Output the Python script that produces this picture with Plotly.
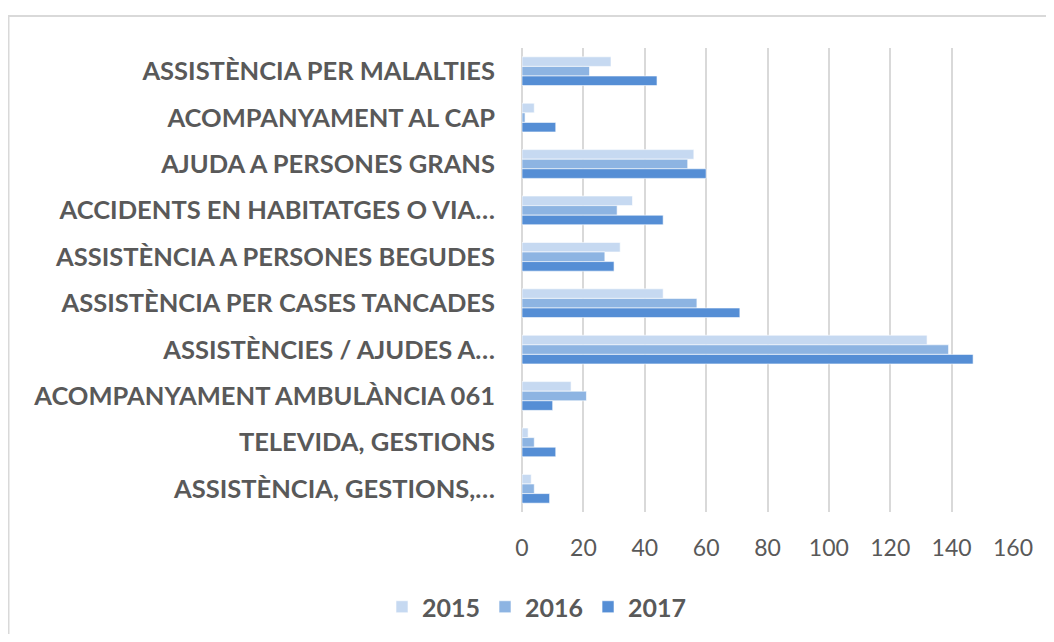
import plotly.graph_objects as go

categories = [
    "ASSISTÈNCIA PER MALALTIES",
    "ACOMPANYAMENT AL CAP",
    "AJUDA A PERSONES GRANS",
    "ACCIDENTS EN HABITATGES O VIA…",
    "ASSISTÈNCIA A PERSONES BEGUDES",
    "ASSISTÈNCIA PER CASES TANCADES",
    "ASSISTÈNCIES / AJUDES A…",
    "ACOMPANYAMENT AMBULÀNCIA 061",
    "TELEVIDA, GESTIONS",
    "ASSISTÈNCIA, GESTIONS,…",
]
years = ["2015", "2016", "2017"]
v2015 = [29, 4, 56, 36, 32, 46, 132, 16, 2, 3]
v2016 = [22, 1, 54, 31, 27, 57, 139, 21, 4, 4]
v2017 = [44, 11, 60, 46, 30, 71, 147, 10, 11, 9]
series = [v2015, v2016, v2017]
colors = ["#C6D9F1", "#8DB4E2", "#558ED5"]
xticks = [0, 20, 40, 60, 80, 100, 120, 140, 160]

fig = go.Figure()
for name, vals, col in zip(years, series, colors):
    fig.add_trace(go.Bar(
        y=categories, x=vals, name=name, orientation="h",
        marker=dict(color=col, line=dict(color="rgba(255,255,255,0.6)", width=1)),
    ))

# page body has an 8px margin: work in figure coordinates
OFF = 8
W, H = 1054 - 2 * OFF, 642 - 2 * OFF
L, R, T, B = 522 - OFF, 1013 - OFF, 48 - OFF, 512 - OFF
px = lambda X: (X - OFF - L) / (R - L)
py = lambda Y: (B - (Y - OFF)) / (B - T)

fig.update_layout(
    width=W, height=H,
    margin=dict(l=L, r=W - R, t=T, b=H - B, autoexpand=False),
    barmode="group", bargap=0.38, bargroupgap=0,
    plot_bgcolor="white", paper_bgcolor="white",
    font=dict(family="Lato, 'Open Sans', sans-serif", color="#595959"),
    showlegend=True,
    legend=dict(orientation="h", x=px(537), xanchor="center",
                y=py(607), yanchor="middle",
                font=dict(size=25, family="Lato, sans-serif", weight="bold", color="#595959"),
                itemwidth=30, traceorder="normal"),
    xaxis=dict(range=[0, 160], tickvals=xticks, showgrid=True, gridcolor="#D9D9D9",
               gridwidth=2, zeroline=True, zerolinecolor="#D9D9D9", zerolinewidth=2,
               showline=False, tickfont=dict(size=23, color="#595959"), ticks="",
               ticklabelstandoff=20, fixedrange=True),
    yaxis=dict(autorange="reversed", showgrid=False, showline=False, ticks="",
               tickfont=dict(size=25.5, color="#595959", weight="bold"),
               ticklabelstandoff=26),
    shapes=[dict(type="rect", xref="paper", yref="paper",
                 x0=-L / (R - L) + 0.001, x1=1.3, y0=-0.5, y1=py(16),
                 line=dict(color="#D9D9D9", width=2), fillcolor="rgba(0,0,0,0)", layer="below")],
)
fig.write_html("out.html")
